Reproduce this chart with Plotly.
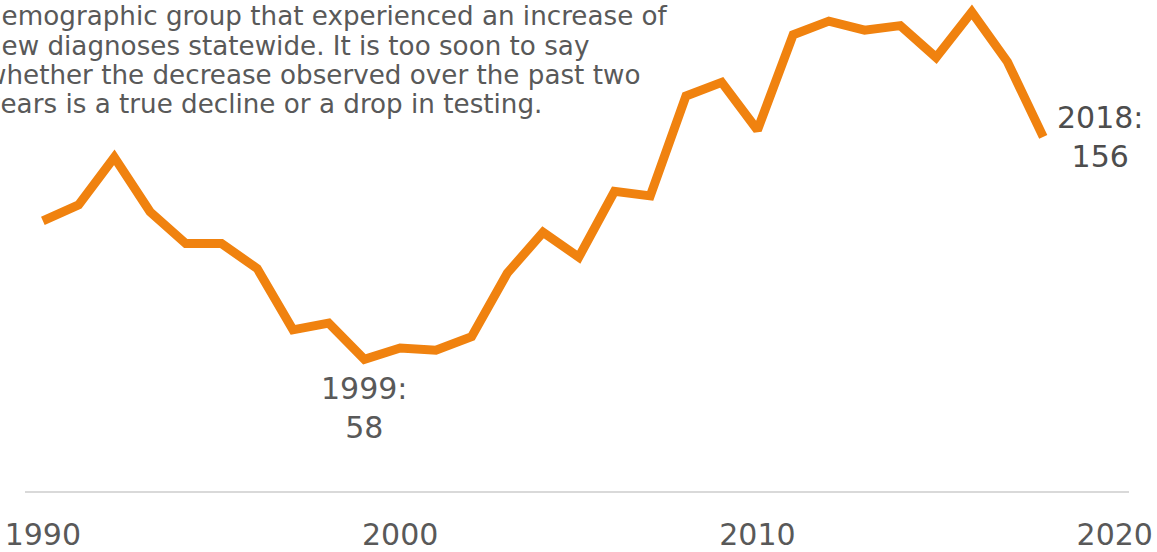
import plotly.graph_objects as go

years = list(range(1990, 2019))
diagnoses = [119, 126, 147, 123, 109, 109, 98, 71, 74, 58,
             63, 62, 68, 96, 114, 103, 132, 130, 174, 180,
             159, 201, 207, 203, 205, 191, 211, 189, 156]
tick_vals = [1990, 2000, 2010, 2020]
tick_text = ["1990", "2000", "2010", "2020"]
note_lines = [
    "demographic group that experienced an increase of",
    "new diagnoses statewide. It is too soon to say",
    "whether the decrease observed over the past two",
    "years is a true decline or a drop in testing.",
]

FONT = "Verdana, DejaVu Sans, sans-serif"
ORANGE = "#F0820F"
GREY = "#595959"

W, H = 1157, 552
ML, MR, MT, MB = 25, 28, 0, 61
PW = W - ML - MR
PH = H - MT - MB

fig = go.Figure()
fig.add_trace(go.Scatter(
    x=years, y=diagnoses, mode="lines",
    line=dict(color=ORANGE, width=9, shape="linear"),
    hoverinfo="x+y", showlegend=False,
))

i99 = years.index(1999)
i18 = years.index(2018)
fig.add_annotation(x=years[i99], y=diagnoses[i99], xref="x", yref="y",
                   text=f"{years[i99]}:<br>{diagnoses[i99]}", showarrow=False,
                   xanchor="center", yanchor="top", yshift=-10,
                   font=dict(family=FONT, size=30, color=GREY))
fig.add_annotation(x=years[i18], y=diagnoses[i18], xref="x", yref="y",
                   text=f"{years[i18]}:<br>{diagnoses[i18]}", showarrow=False,
                   xanchor="left", yanchor="middle", xshift=12,
                   font=dict(family=FONT, size=30, color="#4d4d4d"))

# explanatory note (its left part runs off the page, as in the original)
line_centers_px = [16, 46, 75, 104]
for txt, py in zip(note_lines, line_centers_px):
    fig.add_annotation(x=(-17 - ML) / PW, y=1 - (py - MT) / PH,
                       xref="paper", yref="paper", text=txt, showarrow=False,
                       xanchor="left", yanchor="middle", align="left",
                       font=dict(family=FONT, size=26.2, color=GREY))

fig.update_layout(
    width=W, height=H,
    margin=dict(l=ML, r=MR, t=MT, b=MB, autoexpand=False),
    plot_bgcolor="white", paper_bgcolor="white",
    xaxis=dict(range=[1989.5, 2020.4], tickvals=tick_vals, ticktext=tick_text,
               showgrid=False, zeroline=False, showline=True,
               linecolor="#d9d9d9", linewidth=2,
               ticks="outside", ticklen=16, tickcolor="rgba(0,0,0,0)",
               tickfont=dict(family=FONT, size=30, color=GREY)),
    yaxis=dict(range=[0, 216.3], visible=False, showgrid=False, zeroline=False),
)

fig.write_html(
    "out.html",
    config={"displayModeBar": False},
    post_script="document.body.style.margin='0';document.body.style.overflow='hidden';",
)
